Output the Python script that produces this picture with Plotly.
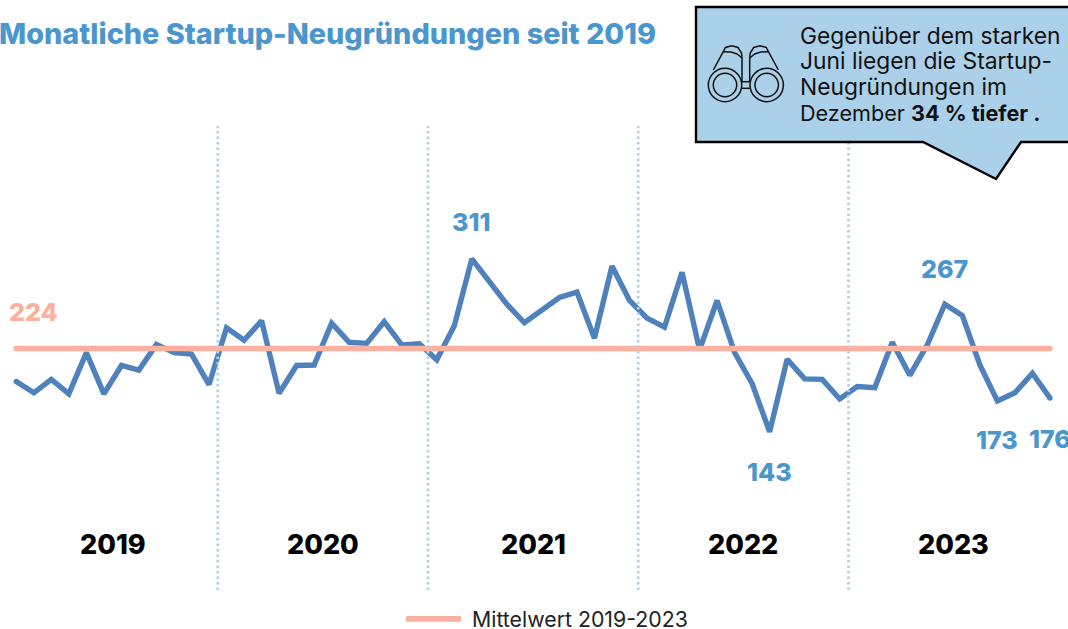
import plotly.graph_objects as go

W, H = 1068, 629
FONT = "Inter"

year_labels = ["2019", "2020", "2021", "2022", "2023"]
month_index = list(range(60))
startups = [192, 181, 194, 180, 220, 180, 207.5, 203, 228, 220, 218.5, 189,
            244, 232, 251, 180.5, 207.5, 208, 248.5, 230, 229, 250, 227.5, 228.5,
            213, 246, 311, 289, 267, 249, 260.5, 273.5, 278.7, 234, 304, 270.6,
            253.5, 244.7, 298, 222.7, 270.6, 220, 190, 143, 213.6, 194.5, 194, 175,
            187, 186, 230, 198, 227.5, 267, 256, 208, 173, 181, 200, 176]
mean_value = 224
mean_name = "\u00a0Mittelwert 2019-2023"
divider_positions = [11.5, 23.5, 35.5, 47.5]
year_centers = [5.5, 17.5, 29.5, 41.5, 53.5]
divider_span = [-10.5, 440]
year_label_level = 34
callout_lines = ["Gegenüber dem starken", "Juni liegen die Startup-", "Neugründungen im",
                 "Dezember <b>34 % tiefer .</b>"]
callout_sizes = [22.8, 22.8, 22.8, 21.6]
value_labels = [(26, 311, "311", 37), (53, 267, "267", 35), (43, 143, "143", -40),
                (56, 173, "173", -39), (59, 176, "176", -41)]

BLUE_TXT = "#4b96cd"
LINE = "#4f81bd"
PINK = "#fbb0a0"
DOT = "#aed1e9"
BOX = "#abd0e9"

fig = go.Figure()
fig.add_trace(go.Scatter(x=month_index, y=startups, mode="lines",
                         line=dict(color=LINE, width=5.4),
                         showlegend=False, hoverinfo="skip"))
fig.add_trace(go.Scatter(x=[month_index[0], month_index[-1]], y=[startups[0], startups[-1]],
                         mode="markers", marker=dict(color=LINE, size=5.4, line=dict(width=0)),
                         showlegend=False, hoverinfo="skip"))
fig.add_trace(go.Scatter(x=[month_index[0], month_index[-1]], y=[mean_value, mean_value],
                         mode="lines", line=dict(color=PINK, width=5.6), name=mean_name))
fig.add_trace(go.Scatter(x=[month_index[0], month_index[-1]], y=[mean_value, mean_value],
                         mode="markers", marker=dict(color=PINK, size=5.6, line=dict(width=0)),
                         showlegend=False, hoverinfo="skip"))
for d in divider_positions:
    fig.add_trace(go.Scatter(x=[d, d], y=divider_span, mode="lines",
                             line=dict(color=DOT, width=2.6, dash="2.5px,3px"),
                             showlegend=False, hoverinfo="skip"))


def px(x):
    return x / W


def py(y):
    return 1 - y / H


def path(points, close=False):
    s = "M " + " L ".join(f"{px(x):.5f},{py(y):.5f}" for x, y in points)
    return s + (" Z" if close else "")


shapes = [dict(type="path", xref="paper", yref="paper",
               path=path([(696, 7), (1074, 7), (1074, 142), (1021, 142), (996, 179), (923, 142), (696, 142)], True),
               fillcolor=BOX, line=dict(color="#000000", width=2.4))]


def circle(cx, cy, r, w=1.5):
    return dict(type="circle", xref="paper", yref="paper",
                x0=px(cx - r), x1=px(cx + r), y0=py(cy + r), y1=py(cy - r),
                line=dict(color="#111111", width=w))


def stroke(points):
    return dict(type="path", xref="paper", yref="paper", path=path(points),
                line=dict(color="#111111", width=1.5))


for cx in (725, 766.7):
    shapes.append(circle(cx, 85, 16.7))
    shapes.append(circle(cx, 85, 11.7))
barrel = [(713.3, 70), (723.3, 51.7), (725.5, 47.5), (731.7, 45.7), (738, 47.5), (741.5, 53), (742, 58), (742, 81.7)]
base = [(723.3, 51.7), (731, 52), (737, 54), (742, 58)]
mirror = lambda pts: [(1491.7 - x, y) for x, y in pts]
shapes += [stroke(barrel), stroke(base), stroke(mirror(barrel)), stroke(mirror(base)),
           stroke([(742, 81.7), (749.7, 81.7)]), stroke([(741.7, 88.3), (750, 88.3)])]

anns = [
    dict(text="Monatliche Startup-Neugründungen seit 2019", xref="paper", yref="paper",
         x=px(-3), y=py(33), xanchor="left", yanchor="middle", showarrow=False,
         font=dict(family=FONT, size=28.8, weight=800, color=BLUE_TXT)),
    dict(text=f"{mean_value}", x=1, y=mean_value, xref="x", yref="y", yshift=36,
         showarrow=False, font=dict(family=FONT, size=25, weight=800, color=PINK)),
]
for k, line in enumerate(callout_lines):
    anns.append(dict(text=line, xref="paper", yref="paper", x=px(798), y=py(35 + 26 * k),
                     xanchor="left", yanchor="middle", align="left", showarrow=False,
                     font=dict(family=FONT, size=callout_sizes[k], color="#111111")))
for i, v, t, s in value_labels:
    anns.append(dict(text=t, x=i, y=v, xref="x", yref="y", yshift=s,
                     showarrow=False, font=dict(family=FONT, size=25, weight=800, color=BLUE_TXT)))
for c, t in zip(year_centers, year_labels):
    anns.append(dict(text=t, x=c, y=year_label_level, xref="x", yref="y",
                     showarrow=False, font=dict(family=FONT, size=27, weight=800, color="#000000")))

fig.update_layout(
    width=W, height=H, margin=dict(l=0, r=0, t=0, b=0, autoexpand=False),
    paper_bgcolor="white", plot_bgcolor="white",
    xaxis=dict(range=[-0.93, 60.03], visible=False, fixedrange=True),
    yaxis=dict(range=[-48.3, 562.3], visible=False, fixedrange=True),
    shapes=shapes, annotations=anns, showlegend=True,
    legend=dict(x=px(547), y=py(619), xanchor="center", yanchor="middle", orientation="h",
                itemwidth=55, bgcolor="rgba(0,0,0,0)",
                font=dict(family=FONT, size=21.3, color="#222222")),
)
fig.write_html("out.html", config=dict(displayModeBar=False),
               post_script="document.body.style.margin='0';document.documentElement.style.overflow='hidden';")
